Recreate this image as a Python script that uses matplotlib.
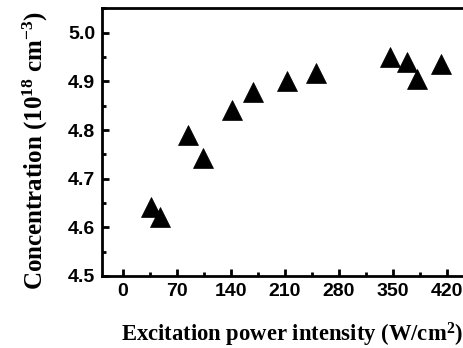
import matplotlib
matplotlib.use("Agg")
import matplotlib.pyplot as plt
from matplotlib.ticker import MultipleLocator

# excitation power intensity (W/cm^2) and carrier concentration (10^18 cm^-3)
power = [36, 48, 85, 104, 141, 169, 213, 250, 346, 368, 381, 413]
concentration = [4.641, 4.622, 4.789, 4.743, 4.841, 4.879, 4.901, 4.917,
                 4.950, 4.939, 4.904, 4.935]

xticks = [0, 70, 140, 210, 280, 350, 420]
yticks = [4.5, 4.6, 4.7, 4.8, 4.9, 5.0]

plt.rcParams['mathtext.fontset'] = 'custom'
plt.rcParams['mathtext.rm'] = 'Liberation Serif:bold'
plt.rcParams['mathtext.default'] = 'rm'

fig = plt.figure(figsize=(4.64, 3.48), dpi=100)
# the original figure is cropped on the right, so the axes run past the edge
ax = fig.add_axes([0.2198, 0.2069, 0.7927, 0.7691])

ax.plot(power, concentration, linestyle='none', marker='^', ms=14,
        color='black', markeredgewidth=0.5)

ax.set_xlim(-27, 450)
ax.set_ylim(4.5, 5.05)
ax.set_xticks(xticks)
ax.set_yticks(yticks)
ax.xaxis.set_minor_locator(MultipleLocator(35))
ax.yaxis.set_minor_locator(MultipleLocator(0.05))
ax.set_xticklabels([str(t) for t in xticks])
ax.set_yticklabels(['%.1f' % t for t in yticks])

for s in ax.spines.values():
    s.set_linewidth(2)
ax.tick_params(which='major', direction='in', length=5, width=2, pad=5,
               top=False, right=False)
ax.tick_params(which='minor', direction='in', length=3, width=2,
               top=False, right=False)
for lab in ax.get_xticklabels() + ax.get_yticklabels():
    lab.set_fontfamily('Liberation Sans')
    lab.set_fontweight('bold')
    lab.set_fontsize(14)

ax.set_xlabel(r'Excitation power intensity (W/cm$^{2}$)', family='Liberation Serif',
              fontweight='bold', fontsize=16.3)
ax.set_ylabel(r'Concentration (10$^{18}$ cm$^{-3}$)', family='Liberation Serif',
              fontweight='bold', fontsize=18)
ax.xaxis.set_label_coords(0.518, -0.166)
ax.yaxis.set_label_coords(-0.142, 0.47)

fig.savefig('out.png', dpi=100)
